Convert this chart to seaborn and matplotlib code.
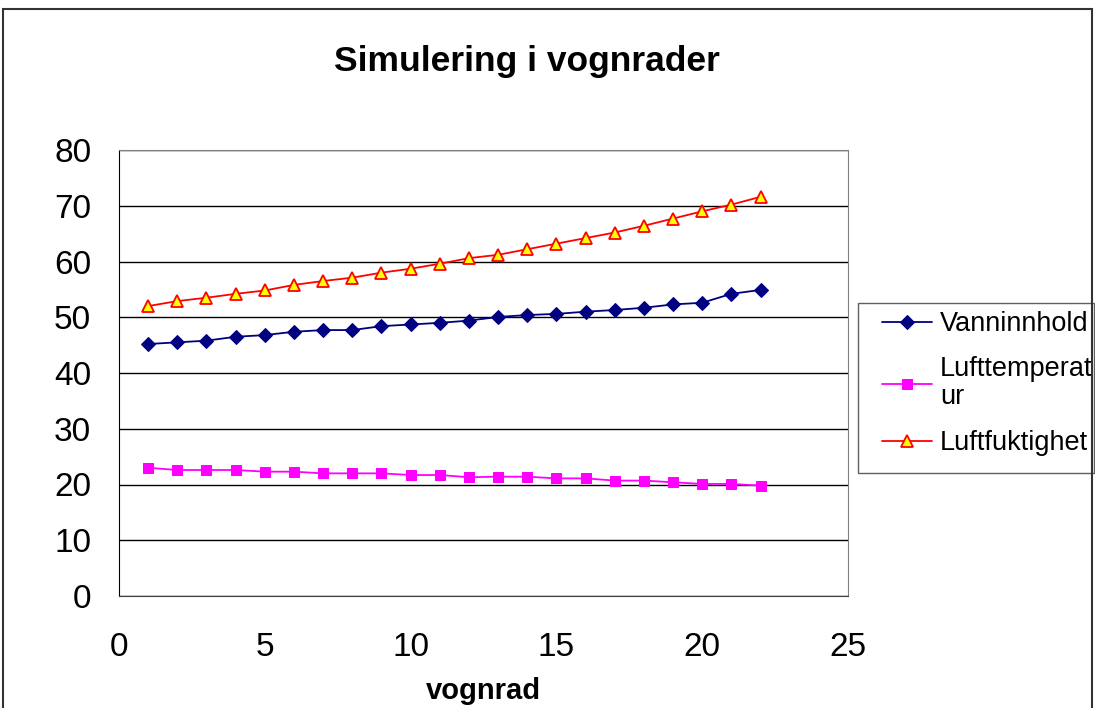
import matplotlib
matplotlib.use("Agg")
import matplotlib.pyplot as plt
import seaborn as sns
import pandas as pd
from matplotlib.patches import Rectangle

# Data
vognrad = list(range(1, 23))
vanninnhold = [45.2, 45.5, 45.8, 46.5, 46.8, 47.4, 47.7, 47.7, 48.4, 48.7, 49.0, 49.4,
               50.05, 50.4, 50.6, 51.0, 51.3, 51.7, 52.3, 52.6, 54.2, 54.9]
lufttemperatur = [23.0, 22.6, 22.6, 22.6, 22.3, 22.3, 22.0, 22.0, 22.0, 21.7, 21.7, 21.3,
                  21.4, 21.4, 21.1, 21.1, 20.7, 20.7, 20.4, 20.1, 20.1, 19.8]
luftfuktighet = [52.0, 52.9, 53.5, 54.2, 54.8, 55.8, 56.5, 57.1, 58.0, 58.7, 59.6, 60.6,
                 61.2, 62.2, 63.2, 64.2, 65.2, 66.4, 67.7, 69.0, 70.2, 71.6]
serie_navn = ["Vanninnhold", "Lufttemperat\nur", "Luftfuktighet"]
y_ticks = list(range(0, 81, 10))
x_ticks = list(range(0, 26, 5))

df = pd.DataFrame({"vognrad": vognrad, "Vanninnhold": vanninnhold,
                   "Lufttemperatur": lufttemperatur, "Luftfuktighet": luftfuktighet})

sns.set_style("white")
plt.rcParams["font.family"] = ["Liberation Sans", "DejaVu Sans"]
plt.rcParams["text.color"] = "black"
plt.rcParams["axes.labelcolor"] = "black"
plt.rcParams["xtick.color"] = "black"
plt.rcParams["ytick.color"] = "black"

fig = plt.figure(figsize=(10.95, 7.08), dpi=100)
ax = fig.add_axes([119 / 1095, 1 - 596 / 708, 729 / 1095, 446 / 708])

sns.lineplot(data=df, x="vognrad", y="Vanninnhold", ax=ax, color="#000080", lw=1.3,
             marker="D", ms=7, mec="#000080", mfc="#000080", label=serie_navn[0])
sns.lineplot(data=df, x="vognrad", y="Lufttemperatur", ax=ax, color="#FF00FF", lw=1.3,
             marker="s", ms=7, mec="#FF00FF", mfc="#FF00FF", label=serie_navn[1])
sns.lineplot(data=df, x="vognrad", y="Luftfuktighet", ax=ax, color="#FF0000", lw=1.3,
             marker="^", ms=9, mec="#FF0000", mfc="#FFFF00", mew=1.3, label=serie_navn[2])

ax.set_xlim(0, 25)
ax.set_ylim(0, 80)
ax.set_xticks(x_ticks)
ax.set_yticks(y_ticks)
ax.yaxis.grid(True, color="black", lw=1)
ax.set_axisbelow(True)
ax.tick_params(axis="both", labelsize=24, length=8, width=1, direction="out")
ax.tick_params(axis="x", pad=18)
ax.tick_params(axis="y", pad=12)
ax.set_ylabel("")
ax.set_xlabel("vognrad", fontsize=21, fontweight="bold", labelpad=10)

for side in ["top", "right"]:
    ax.spines[side].set_color("#808080")
ax.spines["left"].set_color("black")
ax.spines["bottom"].set_color("#404040")

fig.text(527 / 1095, 1 - 62 / 708, "Simulering i vognrader", ha="center", va="center",
         fontsize=25.5, fontweight="bold")

# legend without its own frame, box drawn separately
leg = ax.legend(loc="upper left", bbox_to_anchor=(882 / 1095, 1 - 311 / 708),
                bbox_transform=fig.transFigure, fontsize=19.5, frameon=False,
                handlelength=1.85, handletextpad=0.3, labelspacing=0.72, borderpad=0,
                borderaxespad=0)
for t in leg.get_texts():
    t.set_linespacing(1.1)
fig.patches.append(Rectangle((858 / 1095, 1 - 473 / 708), 236 / 1095, 170 / 708,
                             transform=fig.transFigure, fill=False,
                             edgecolor="#606060", lw=1))

# border round the whole chart
fig.patches.append(Rectangle((3 / 1095, -0.05), 1089 / 1095, 1.05 - 9 / 708,
                             transform=fig.transFigure, fill=False,
                             edgecolor="#333333", lw=1.5))

fig.savefig("out.png", dpi=100)
